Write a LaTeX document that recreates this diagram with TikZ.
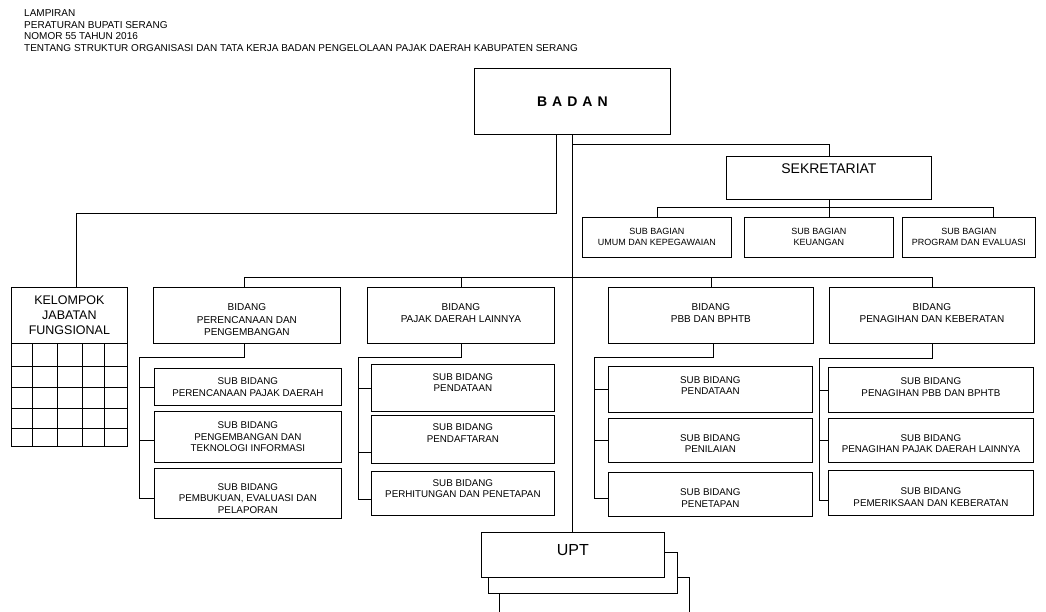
\documentclass[tikz,border=0pt]{standalone}
\usepackage{fontspec}
\setmainfont{Liberation Sans}
\usetikzlibrary{calc}

\begin{document}
\begin{tikzpicture}[x=1pt, y=-1pt,
        box/.style={draw, line width=0.8pt, fill=white, align=center,
            inner sep=0pt, anchor=north west},
        wh/.style 2 args={minimum width=#1pt, minimum height=#2pt},
        dp/.style={text depth=#1pt},
        ht/.style={text height=#1pt},
        link/.style={line width=0.8pt},
        grid/.style={line width=0.7pt},
        hdrtxt/.style={font=\fontsize{10}{11.5}\selectfont},
        bidtxt/.style={font=\fontsize{10}{12.5}\selectfont},
        subtxt/.style={font=\fontsize{9.8}{11.5}\selectfont},
        bagtxt/.style={font=\fontsize{9}{11}\selectfont}]
        \clip (0,0) rectangle (1046,612);
        \useasboundingbox (0,0) rectangle (1046,612);

        % Header
        \node [hdrtxt, anchor=north west, align=left, inner sep=0pt] (hdr) at (24,9.5)
            {LAMPIRAN\\PERATURAN BUPATI SERANG\\NOMOR 55 TAHUN 2016\\%
            TENTANG STRUKTUR ORGANISASI DAN TATA KERJA BADAN PENGELOLAAN PAJAK DAERAH KABUPATEN SERANG};

        % Badan and sekretariat
        \node [box, wh={196}{66}, font=\bfseries\fontsize{14}{16}\selectfont] (badan) at (474,68)
            {B\hspace{5pt}A\hspace{5pt}D\hspace{5pt}A\hspace{5pt}N};
        \node [box, wh={205}{43}, font=\fontsize{14}{16}\selectfont, dp=18] (sekr) at (726,156) {SEKRETARIAT};
        \node [box, wh={149}{40}, bagtxt] (sb1) at (582,217) {SUB BAGIAN\\UMUM DAN KEPEGAWAIAN};
        \node [box, wh={149}{40}, bagtxt] (sb2) at (744,217) {SUB BAGIAN\\KEUANGAN};
        \node [box, wh={133}{40}, bagtxt] (sb3) at (902,217) {SUB BAGIAN\\PROGRAM DAN EVALUASI};

        \draw [link] ($(badan.south)+(0,10)$) -| (sekr.north);
        \draw [link] (sekr.south) -- (sekr.south |- sb2.north);
        \draw [link] (sb1.north) -- ++(0,-10) -| ([xshift=24pt]sb3.north);

        % Kelompok jabatan fungsional
        \node [box, wh={116}{56}, font=\fontsize{12.5}{15}\selectfont] (kjf) at (11,287)
            {KELOMPOK\\JABATAN\\FUNGSIONAL};
        \draw [grid] (11,343) rectangle (127,446);
        \foreach \gx in {32,57,82,104}
            \draw [grid] (\gx,343) -- (\gx,446);
        \foreach \gy in {366,387,408,428}
            \draw [grid] (11,\gy) -- (127,\gy);
        \draw [link] ([xshift=-16pt]badan.south) -- ++(0,79) -| ([xshift=7pt]kjf.north);

        % Bidang
        \node [box, wh={187}{56}, bidtxt, ht=41] (bid1) at (153,287) {BIDANG\\PERENCANAAN DAN\\PENGEMBANGAN};
        \node [box, wh={187}{56}, bidtxt, dp=5] (bid2) at (367,287) {BIDANG\\PAJAK DAERAH LAINNYA};
        \node [box, wh={205}{56}, bidtxt, dp=5] (bid3) at (608,287) {BIDANG\\PBB DAN BPHTB};
        \node [box, wh={205}{56}, bidtxt, dp=5] (bid4) at (829,287) {BIDANG\\PENAGIHAN DAN KEBERATAN};

        \draw [link] ([xshift=-3pt]bid1.north) -- ++(0,-10) -| (bid4.north);
        \draw [link] (bid2.north) -- ++(0,-10);
        \draw [link] (bid3.north) -- ++(0,-10);

        % Sub bidang
        \node [box, wh={187}{37}, subtxt] (s11) at (154,368) {SUB BIDANG\\PERENCANAAN PAJAK DAERAH};
        \node [box, wh={187}{51}, subtxt] (s12) at (154,411) {SUB BIDANG\\PENGEMBANGAN DAN\\TEKNOLOGI INFORMASI};
        \node [box, wh={187}{50}, subtxt, ht=40] (s13) at (154,468) {SUB BIDANG\\PEMBUKUAN, EVALUASI DAN\\PELAPORAN};

        \node [box, wh={183}{47}, subtxt, dp=11] (s21) at (371,364) {SUB BIDANG\\PENDATAAN};
        \node [box, wh={183}{48}, subtxt, dp=13] (s22) at (371,415) {SUB BIDANG\\PENDAFTARAN};
        \node [box, wh={183}{44}, subtxt, dp=10] (s23) at (371,471) {SUB BIDANG\\PERHITUNGAN DAN PENETAPAN};

        \node [box, wh={204}{46}, subtxt, dp=8] (s31) at (608,366) {SUB BIDANG\\PENDATAAN};
        \node [box, wh={204}{44}, subtxt, ht=24.5] (s32) at (608,418) {SUB BIDANG\\PENILAIAN};
        \node [box, wh={204}{44}, subtxt, ht=25.5] (s33) at (608,472) {SUB BIDANG\\PENETAPAN};

        \node [box, wh={205}{45}, subtxt, dp=6] (s41) at (828,367) {SUB BIDANG\\PENAGIHAN PBB DAN BPHTB};
        \node [box, wh={205}{44}, subtxt, ht=24.5] (s42) at (828,418) {SUB BIDANG\\PENAGIHAN PAJAK DAERAH LAINNYA};
        \node [box, wh={205}{45}, subtxt, ht=26.5] (s43) at (828,470) {SUB BIDANG\\PEMERIKSAAN DAN KEBERATAN};

        \coordinate (bar1) at (139,357);
        \coordinate (bar2) at (358,357);
        \coordinate (bar3) at (594,357);
        \coordinate (bar4) at (819,358);

        \draw [link] ([xshift=-3pt]bid1.south) |- (bar1) |- ([yshift=-5pt]s13.west);
        \draw [link] (s11.west) -- (s11.west -| bar1);
        \draw [link] ([yshift=-3pt]s12.west) -- ([yshift=-3pt]s12.west -| bar1);

        \draw [link] (bid2.south) |- (bar2) |- ([yshift=-6pt]s23.west);
        \draw [link] (s21.west) -- (s21.west -| bar2);
        \draw [link] ([yshift=-13pt]s22.west) -- ([yshift=-13pt]s22.west -| bar2);

        \draw [link] ([xshift=2pt]bid3.south) |- (bar3) |- ([yshift=-4pt]s33.west);
        \draw [link] (s31.west) -- (s31.west -| bar3);
        \draw [link] (s32.west) -- (s32.west -| bar3);

        \draw [link] (bid4.south) |- (bar4) |- ([yshift=-7pt]s43.west);
        \draw [link] (s41.west) -- (s41.west -| bar4);
        \draw [link] (s42.west) -- (s42.west -| bar4);

        % UPT
        \node [box, wh={190}{50}] (upt3) at (499,577) {};
        \node [box, wh={189}{41}] (upt2) at (488,552) {};
        \node [box, wh={183}{45}, font=\fontsize{16}{18}\selectfont, dp=9] (upt) at (481,532) {UPT};
        \draw [link] (badan.south) -- (badan.south |- upt.north);
\end{tikzpicture}
\end{document}
